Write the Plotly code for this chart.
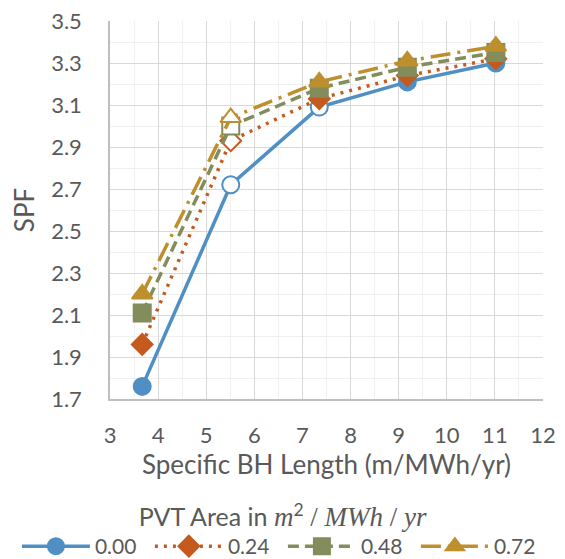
import plotly.graph_objects as go

x_vals = [3.67, 5.51, 7.35, 9.18, 11.02]
series_names = ["0.00", "0.24", "0.48", "0.72"]
spf_000 = [1.76, 2.72, 3.09, 3.21, 3.30]
spf_024 = [1.96, 2.93, 3.13, 3.24, 3.32]
spf_048 = [2.11, 3.00, 3.18, 3.28, 3.35]
spf_072 = [2.20, 3.04, 3.21, 3.31, 3.38]
open_points = [[1, 2], [1], [1], [1]]
y_ticks = [1.7, 1.9, 2.1, 2.3, 2.5, 2.7, 2.9, 3.1, 3.3, 3.5]
x_ticks = [3, 4, 5, 6, 7, 8, 9, 10, 11, 12]

colors = ["#4F8FC4", "#C55A1E", "#838C5B", "#BE8F2D"]
symbols = ["circle", "diamond", "square", "triangle-up"]
dashes = ["solid", "3px,6px", "11px,6px", "20px,7px,3px,7px"]
msizes = [17, 16, 17, 18]

FONT = "Lato"
TXT = "#595959"

fig = go.Figure()
for name, ys, col, sym, dsh, ms, op in zip(series_names, [spf_000, spf_024, spf_048, spf_072],
                                            colors, symbols, dashes, msizes, open_points):
    fills = ["white" if i in op else col for i in range(len(ys))]
    fig.add_trace(go.Scatter(
        x=x_vals, y=ys, name=name, mode="lines+markers",
        line=dict(color=col, width=3.5, dash=dsh),
        marker=dict(symbol=sym, size=ms, color=fills, line=dict(color=col, width=2)),
    ))

SERIF = "font-family:'Liberation Serif';font-size:27px"
title_html = ("PVT Area in "
              f"<span style=\"{SERIF};font-style:italic\">m</span><sup>2</sup>"
              f"<span style=\"{SERIF}\"> / </span>"
              f"<span style=\"{SERIF};font-style:italic\">MWh</span>"
              f"<span style=\"{SERIF}\"> / </span>"
              f"<span style=\"{SERIF};font-style:italic\">yr</span>")

fig.update_layout(
    width=557, height=551,
    margin=dict(l=102, r=22, t=13, b=160, autoexpand=False),
    plot_bgcolor="white", paper_bgcolor="white",
    font=dict(family=FONT, size=21, color=TXT),
    showlegend=True,
    legend=dict(
        orientation="h", x=-0.215, xanchor="left", xref="paper",
        y=-0.25, yanchor="top", yref="paper",
        title=dict(text=title_html, side="top center", font=dict(size=25, color=TXT)),
        font=dict(size=21, color=TXT),
        itemwidth=68, entrywidth=50, tracegroupgap=0,
    ),
    xaxis=dict(
        range=[3, 12], tickvals=x_ticks,
        showgrid=True, gridcolor="#D9D9D9", gridwidth=1.3,
        minor=dict(dtick=0.5, tick0=3, showgrid=True, gridcolor="#F0F0F0", gridwidth=1),
        showline=True, linecolor="#BFBFBF", linewidth=1.5,
        zeroline=False, ticks="", ticklabelstandoff=16, ticklabeloverflow="allow",
        title=dict(text="Specific BH Length (m/MWh/yr)", font=dict(size=26, color=TXT), standoff=6),
        tickfont=dict(size=22, color=TXT),
    ),
    yaxis=dict(
        range=[1.7, 3.5], tickvals=y_ticks, ticktext=[f"{v:.1f}" for v in y_ticks],
        showgrid=True, gridcolor="#D9D9D9", gridwidth=1.3,
        minor=dict(dtick=0.1, tick0=1.7, showgrid=True, gridcolor="#F0F0F0", gridwidth=1),
        showline=True, linecolor="#BFBFBF", linewidth=1.5,
        zeroline=False, ticks="", ticklabelstandoff=22, ticklabeloverflow="allow",
        title=dict(text="SPF", font=dict(size=26, color=TXT), standoff=12),
        tickfont=dict(size=22, color=TXT),
    ),
)

fig.write_html("out.html")
